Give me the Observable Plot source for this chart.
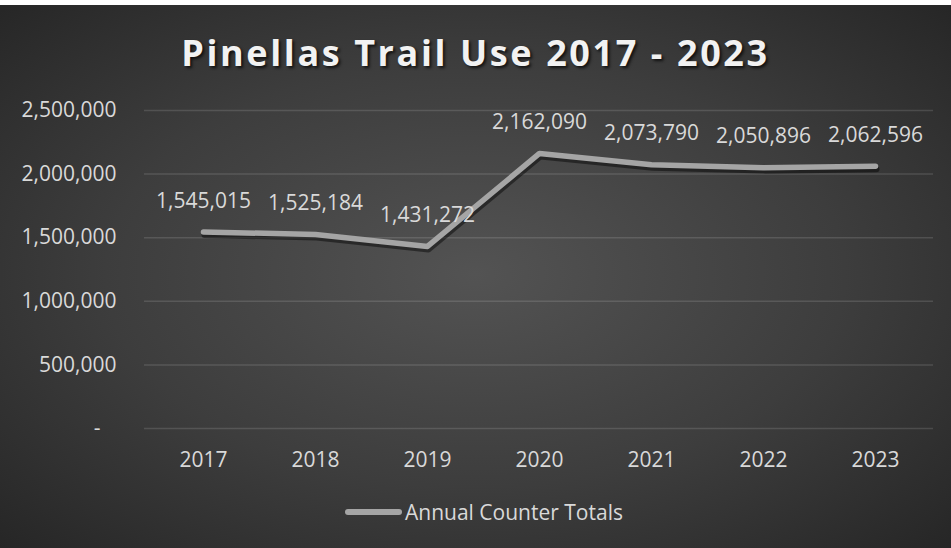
<!DOCTYPE html>
<html>
<head>
<meta charset="utf-8">
<script src="https://cdn.jsdelivr.net/npm/d3@7"></script>
<script src="https://cdn.jsdelivr.net/npm/@observablehq/plot@0.6"></script>
<style>
  html, body { margin: 0; padding: 0; background: #fff; }
  #page {
    position: relative; width: 951px; height: 548px; overflow: hidden;
    background: radial-gradient(ellipse at 50% 50%, #535353 0%, #3d3d3d 55%, #262626 100%);
    font-family: "Open Sans", sans-serif;
  }
  #topstrip { position: absolute; left: 0; top: 0; width: 951px; height: 5px; background: #fff; }
  #title {
    position: absolute; left: 0; top: 28px; width: 951px; text-align: center;
    font-size: 36px; line-height: 49px; font-weight: 700; letter-spacing: 2.6px;
    color: #f2f2f2; text-shadow: 2px 2px 3px rgba(0,0,0,0.7);
  }
  #chart { position: absolute; left: 0; top: 90px; }
  #legend {
    position: absolute; left: 345px; top: 497px; display: flex; align-items: center;
    font-size: 21px; color: #d9d9d9; line-height: 30px;
  }
  #legend .sw { width: 57px; height: 6px; border-radius: 3px; background: #a5a5a5; margin-right: 3px; }
</style>
</head>
<body>
<div id="page">
  <div id="topstrip"></div>
  <div id="title">Pinellas Trail Use 2017 - 2023</div>
  <div id="chart"></div>
  <div id="legend"><span class="sw"></span><span id="legendLabel"></span></div>
</div>
<script>
const years = ["2017", "2018", "2019", "2020", "2021", "2022", "2023"];
const totals = [1545015, 1525184, 1431272, 2162090, 2073790, 2050896, 2062596];
const yTicks = [0, 500000, 1000000, 1500000, 2000000, 2500000];
const seriesName = "Annual Counter Totals";

const data = years.map((year, i) => ({year, total: totals[i]}));
const fmt = d3.format(",");

const plot = Plot.plot({
  width: 951,
  height: 390,
  marginTop: 20,
  marginBottom: 52,
  marginLeft: 144,
  marginRight: 18,
  style: {background: "transparent", color: "#d9d9d9", fontFamily: "Open Sans, sans-serif", fontSize: "21px", overflow: "visible"},
  x: {type: "point", domain: years, padding: 0.5, label: null},
  y: {domain: [0, 2500000], label: null},
  marks: [
    Plot.gridY(yTicks, {stroke: "#ffffff", strokeOpacity: 0.13, strokeWidth: 1.5}),
    Plot.axisY(yTicks.filter(d => d !== 0), {tickSize: 0, tickPadding: 28, tickFormat: fmt, label: null, fill: "#d9d9d9", fontSize: 21}),
    Plot.axisY([0], {tickSize: 0, tickPadding: 44, tickFormat: () => "-", label: null, fill: "#d9d9d9", fontSize: 21}),
    Plot.axisX({tickSize: 0, tickPadding: 24, label: null, fill: "#d9d9d9", fontSize: 21}),
    Plot.line(data, {x: "year", y: "total", stroke: "#000", strokeOpacity: 0.45, strokeWidth: 6, strokeLinecap: "round", strokeLinejoin: "round", dy: 3, dx: 1, style: {filter: "blur(2px)"}}),
    Plot.line(data, {x: "year", y: "total", stroke: "#a5a5a5", strokeWidth: 5.5, strokeLinecap: "round", strokeLinejoin: "round"}),
    Plot.text(data, {x: "year", y: "total", text: d => fmt(d.total), dy: -31, fill: "#d9d9d9", fontSize: 21})
  ]
});
document.getElementById("chart").appendChild(plot);
document.getElementById("legendLabel").textContent = seriesName;
</script>
</body>
</html>
